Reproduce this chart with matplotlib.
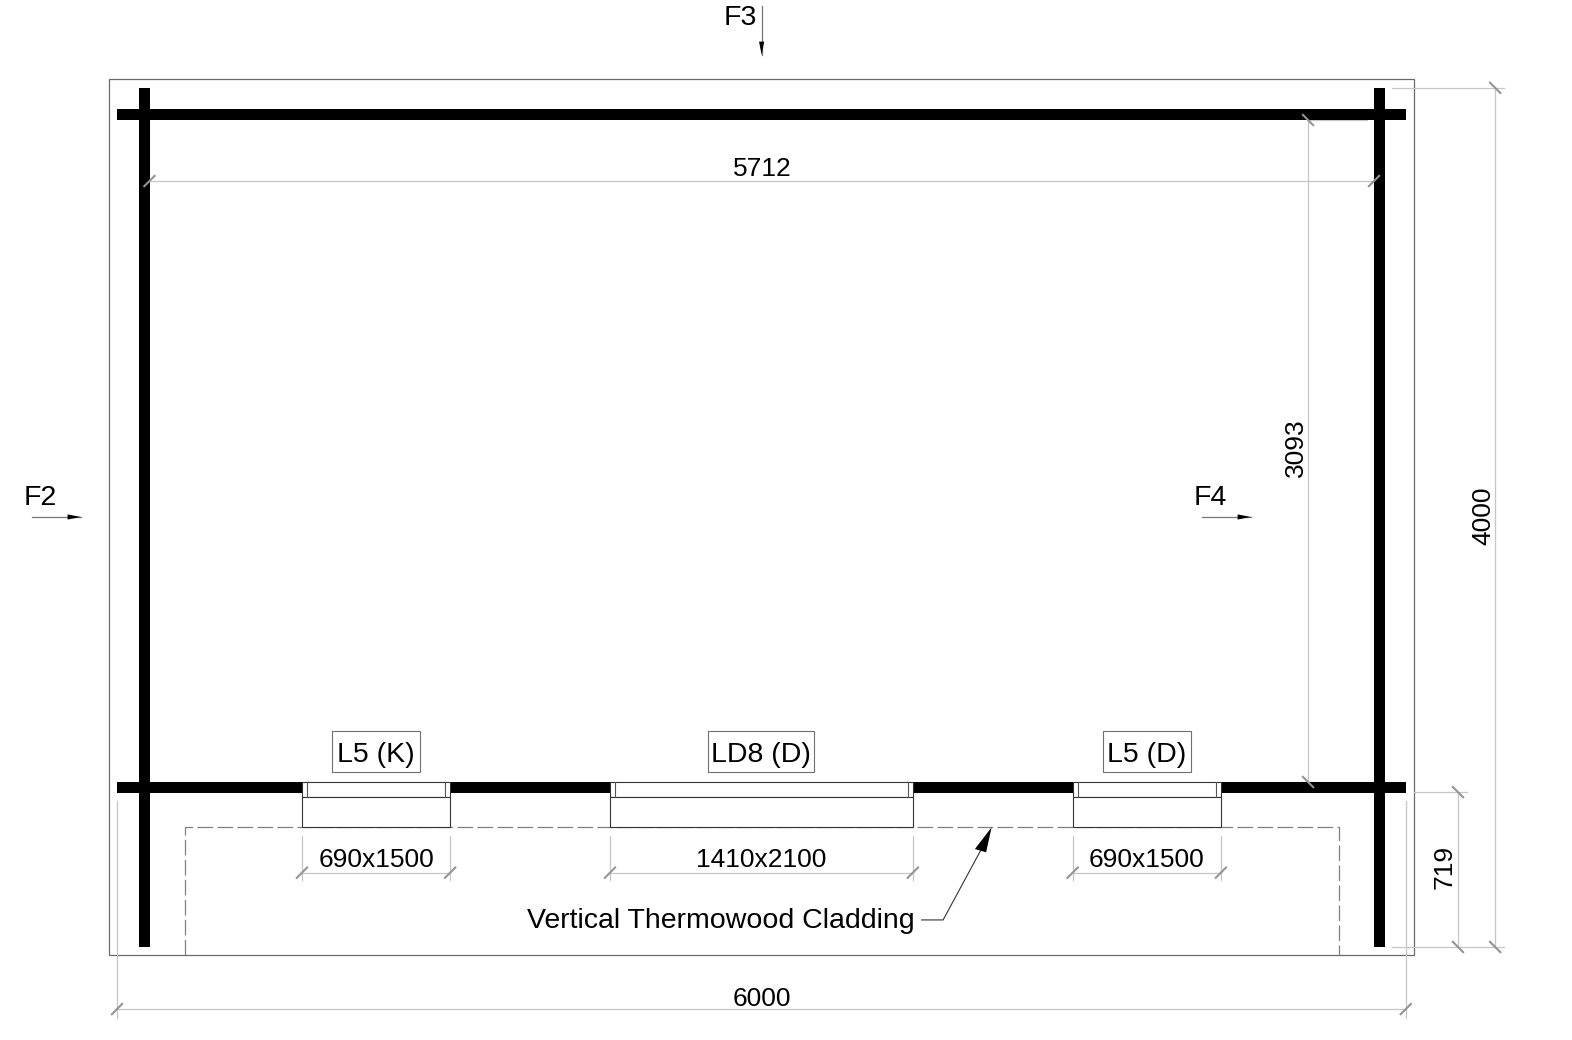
import matplotlib
matplotlib.use('Agg')
import matplotlib.pyplot as plt
from matplotlib.patches import Rectangle, Polygon

# everything is in plan millimetres, 0,0 = outer corner of the log walls
PLAN_W = 6000
PLAN_H = 4000
PX_PER_MM = 0.2148
ORIGIN_PX = (117, 947)

BOUNDARY_X = [-36, 6040]
BOUNDARY_Y = [-37, 4041]
CLADDING_X = [315, 5688]
CLADDING_Y = 558

WALL_V_X = [(102, 154), (5852, 5904)]
WALL_H_Y = [(719, 769), (3850, 3900)]

OPENING_NAMES = ['L5 (K)', 'LD8 (D)', 'L5 (D)']
OPENING_SIZES = ['690x1500', '1410x2100', '690x1500']
OPENING_X0 = [861, 2295, 4449]
OPENING_X1 = [1551, 3705, 5139]
NAME_BOX_W = [412, 494, 412]

WALL_COLOR = 'black'
DIM_COLOR = '#c6c6c6'
TICK_COLOR = '#949494'
FS_NUM = 19
FS_TXT = 20.5
FONT = ['Liberation Sans', 'DejaVu Sans']

plt.rcParams['font.family'] = FONT

fig = plt.figure(figsize=(15.72, 10.4), dpi=100)
ax = fig.add_axes([0, 0, 1, 1])
ax.set_xlim(-ORIGIN_PX[0] / PX_PER_MM, (1572 - ORIGIN_PX[0]) / PX_PER_MM)
ax.set_ylim((ORIGIN_PX[1] - 1040) / PX_PER_MM, ORIGIN_PX[1] / PX_PER_MM)
ax.axis('off')


def dim_h(x0, x1, y, ext_top=None, ext_bottom=None):
    """Horizontal dimension line with slashes, optional extension lines."""
    ax.plot([x0, x1], [y, y], color=DIM_COLOR, lw=0.9, zorder=2)
    for x in (x0, x1):
        if ext_top is not None:
            ax.plot([x, x], [ext_bottom, ext_top], color=DIM_COLOR, lw=0.9, zorder=2)
        ax.plot([x - 24, x + 24], [y - 24, y + 24], color=TICK_COLOR, lw=1.5, zorder=5)


def dim_v(x, y0, y1):
    ax.plot([x, x], [y0, y1], color=DIM_COLOR, lw=0.9, zorder=2)
    for y in (y0, y1):
        ax.plot([x - 24, x + 24], [y + 24, y - 24], color=TICK_COLOR, lw=1.5, zorder=5)


def view_arrow(x0, y0, x1, y1, head=62, half=12):
    ax.plot([x0, x1], [y0, y1], color='#777777', lw=0.9, zorder=3)
    dx = (x1 > x0) - (x1 < x0)
    dy = (y1 > y0) - (y1 < y0)
    ax.add_patch(Polygon([(x1, y1), (x1 - dx * head - dy * half, y1 - dy * head - dx * half),
                          (x1 - dx * head + dy * half, y1 - dy * head + dx * half)],
                         color='black', lw=0, zorder=4))


# site boundary
ax.add_patch(Rectangle((BOUNDARY_X[0], BOUNDARY_Y[0]), BOUNDARY_X[1] - BOUNDARY_X[0],
                       BOUNDARY_Y[1] - BOUNDARY_Y[0], fill=False, ec='#6a6a6a', lw=0.9, zorder=1))

# cladding outline
ax.plot([CLADDING_X[0], CLADDING_X[0], CLADDING_X[1], CLADDING_X[1]],
        [BOUNDARY_Y[0], CLADDING_Y, CLADDING_Y, BOUNDARY_Y[0]],
        color='#808080', lw=0.9, dashes=(12.5, 3.5), zorder=2)

# log walls
for x0, x1 in WALL_V_X:
    ax.add_patch(Rectangle((x0, 0), x1 - x0, PLAN_H, color=WALL_COLOR, lw=0, zorder=3))
for y0, y1 in WALL_H_Y:
    ax.add_patch(Rectangle((0, y0), PLAN_W, y1 - y0, color=WALL_COLOR, lw=0, zorder=3))

# openings in the front wall
for name, size, x0, x1, box_w in zip(OPENING_NAMES, OPENING_SIZES, OPENING_X0, OPENING_X1, NAME_BOX_W):
    mid = (x0 + x1) / 2
    ax.add_patch(Rectangle((x0, 698), x1 - x0, 71, fc='white', ec='#333333', lw=0.8, zorder=4))
    ax.add_patch(Rectangle((x0, 558), x1 - x0, 140, fc='white', ec='#333333', lw=0.8, zorder=4))
    for xm in (x0 + 24, x1 - 24):
        ax.plot([xm, xm], [698, 769], color='#555555', lw=0.8, zorder=5)
    dim_h(x0, x1, 346, ext_top=517, ext_bottom=312)
    ax.text(mid, 407, size, ha='center', va='center', fontsize=FS_NUM, zorder=6)
    ax.add_patch(Rectangle((mid - box_w / 2, 813), box_w, 191, fc='white', ec='#707070', lw=0.8, zorder=4))
    ax.text(mid, 896, name, ha='center', va='center', fontsize=FS_TXT, zorder=6)

# overall and inner dimensions
dim_h(151, 5852, 3566)
ax.plot([151, 151], [3566, 3860], color=DIM_COLOR, lw=0.9, zorder=2)
ax.text(3005, 3621, '5712', ha='center', va='center', fontsize=FS_NUM)

dim_v(5545, 768, 3850)
ax.plot([5545, 5820], [3850, 3850], color=DIM_COLOR, lw=0.9, zorder=2)
ax.plot([5545, 5820], [768, 768], color=DIM_COLOR, lw=0.9, zorder=2)
ax.text(5487, 2323, '3093', ha='center', va='center', rotation=90, fontsize=FS_NUM)

dim_h(0, PLAN_W, -289, ext_top=680, ext_bottom=-330)
ax.text(3000, -240, '6000', ha='center', va='center', fontsize=FS_NUM)

dim_v(6416, 0, PLAN_H)
ax.plot([5936, 6457], [PLAN_H, PLAN_H], color=DIM_COLOR, lw=0.9, zorder=2)
ax.plot([5936, 6457], [0, 0], color=DIM_COLOR, lw=0.9, zorder=2)
ax.text(6360, 2006, '4000', ha='center', va='center', rotation=90, fontsize=FS_NUM)

dim_v(6243, 0, 721)
ax.plot([6040, 6285], [721, 721], color=DIM_COLOR, lw=0.9, zorder=2)
ax.text(6182, 375, '719', ha='center', va='center', rotation=90, fontsize=FS_NUM)

# elevation markers
ax.text(2900, 4327, 'F3', ha='center', va='center', fontsize=FS_TXT)
view_arrow(3001, 4381, 3001, 4153)
ax.text(-358, 2088, 'F2', ha='center', va='center', fontsize=FS_TXT)
view_arrow(-396, 2002, -168, 2002)
ax.text(5090, 2088, 'F4', ha='center', va='center', fontsize=FS_TXT)
view_arrow(5051, 2002, 5279, 2002)

# cladding note with leader
ax.text(2810, 122, 'Vertical Thermowood Cladding', ha='center', va='center', fontsize=FS_TXT)
ax.plot([3746, 3846, 4020], [126, 126, 448], color='#333333', lw=0.8, zorder=3)
ax.add_patch(Polygon([(4072, 558), (3994, 456), (4046, 441)], color='black', lw=0, zorder=4))

fig.savefig('out.png', dpi=100, facecolor='white')
